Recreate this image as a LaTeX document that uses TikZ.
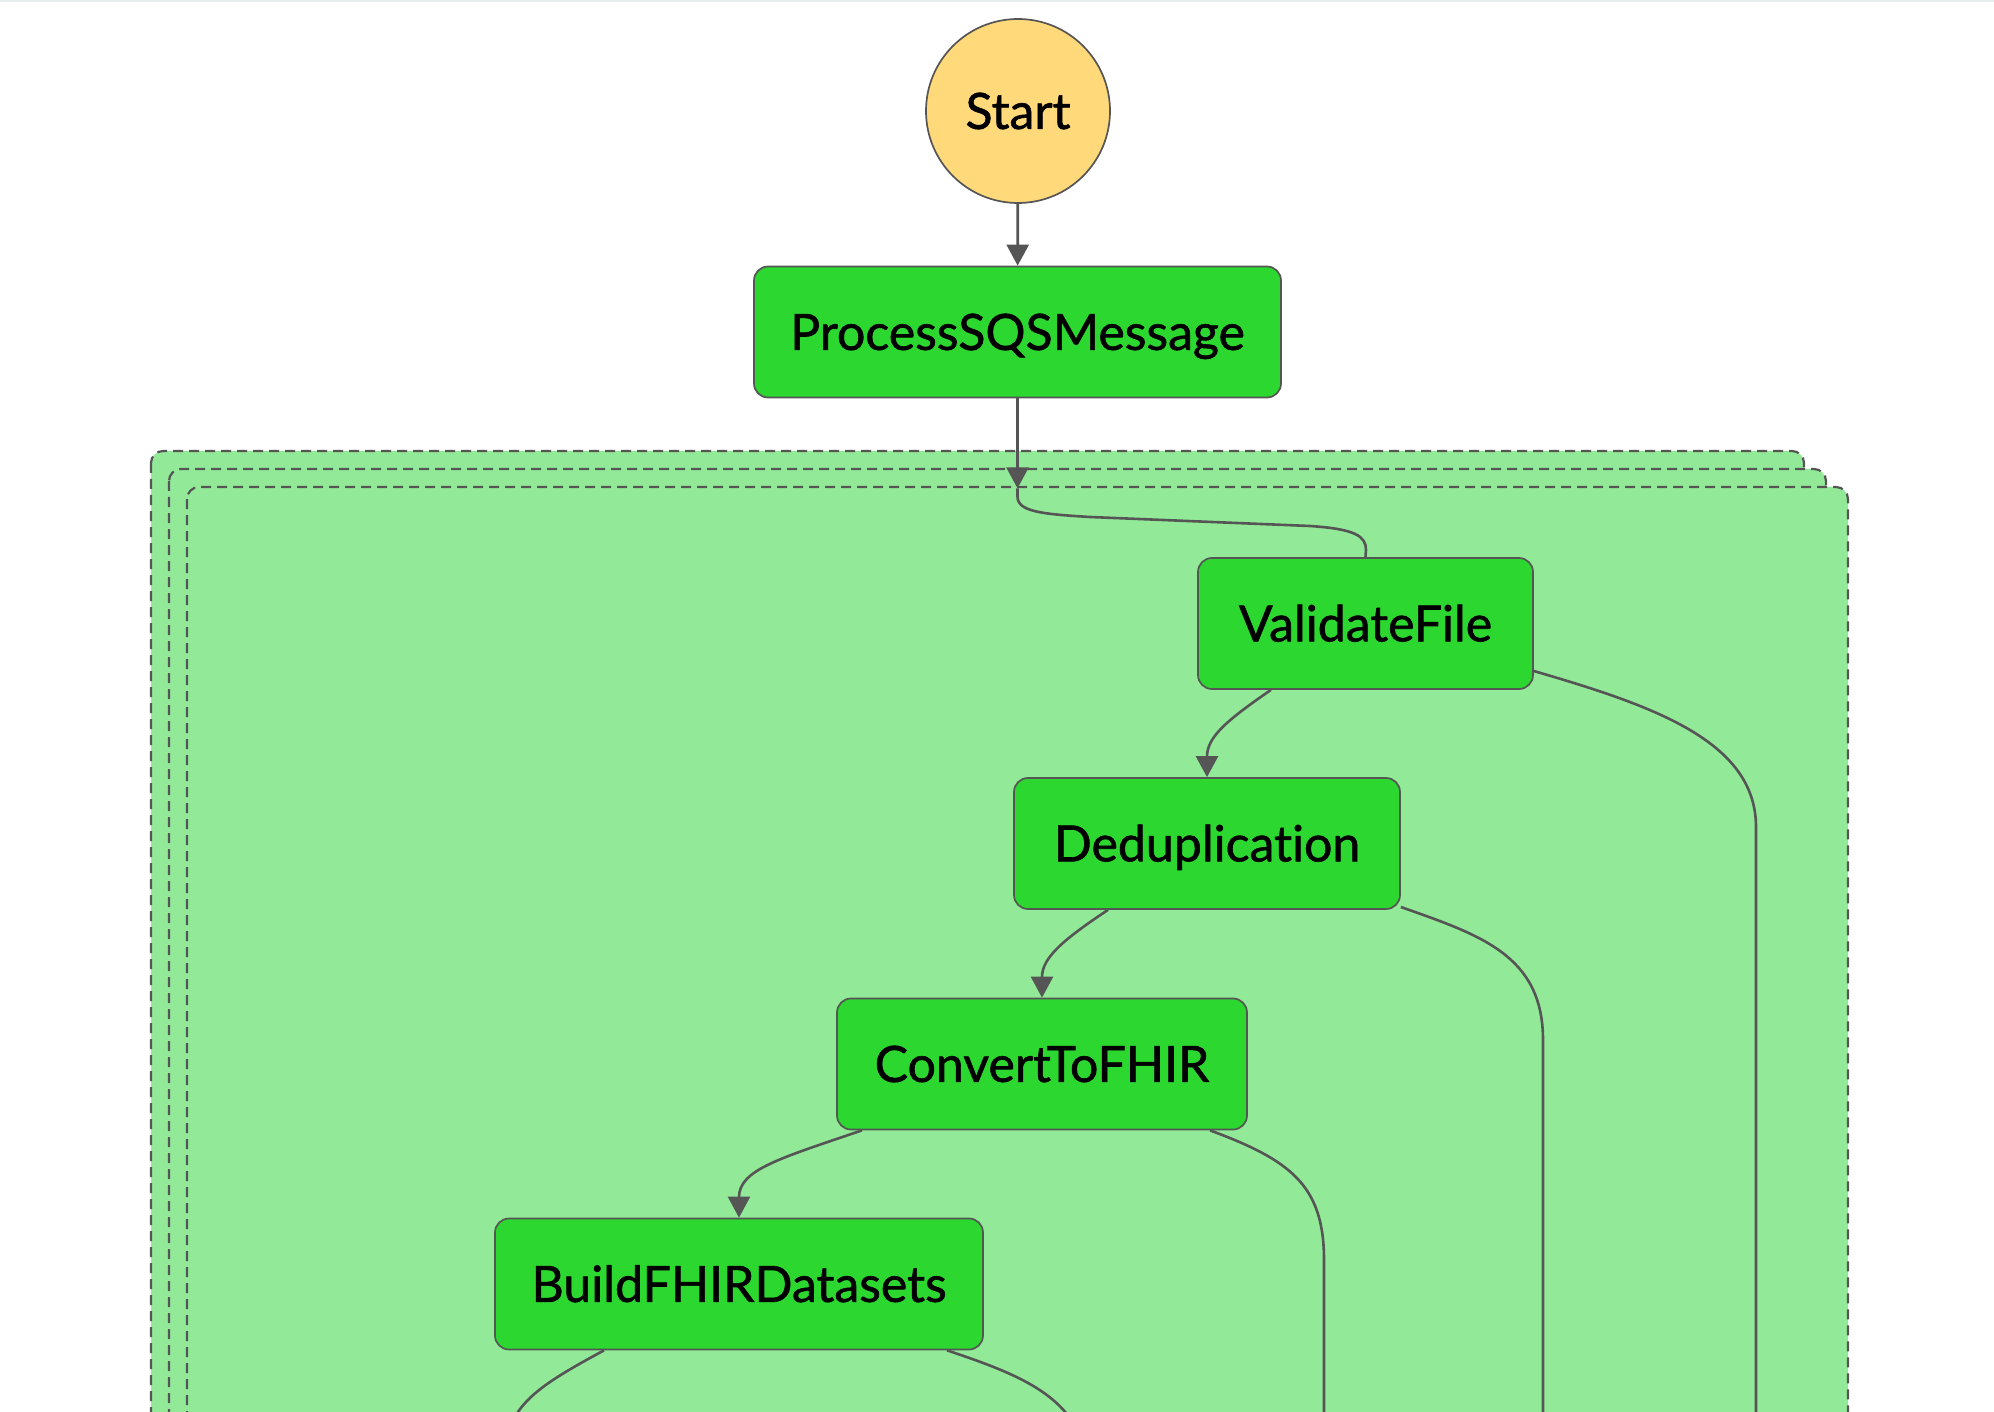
\documentclass[tikz,border=0pt]{standalone}
\usepackage{fontspec}
\setmainfont{Lato}[FakeBold=1.2, Ligatures={NoCommon}]
\usetikzlibrary{arrows.meta,calc}
\definecolor{boxgreen}{HTML}{2CD730}
\definecolor{mapgreen}{HTML}{92EA98}
\definecolor{startyel}{HTML}{FFD97A}
\definecolor{edgegray}{HTML}{555555}
\definecolor{topbar}{HTML}{E8ECEC}
\begin{document}
\begin{tikzpicture}[x=0.5pt,y=-0.5pt,
  state/.style={rectangle, draw=edgegray, line width=0.85pt, fill=boxgreen, rounded corners=7pt,
    inner sep=0pt, minimum height=65.5pt, text height=17.9pt, text depth=0pt,
    font=\fontsize{25}{30}\selectfont},
  startnode/.style={circle, draw=edgegray, line width=0.85pt, fill=startyel, minimum size=92pt,
    inner sep=0pt, text height=17.9pt, text depth=0pt, font=\fontsize{25}{30}\selectfont},
  mapbox/.style={draw=edgegray, line width=1.1pt, dash pattern=on 5pt off 3pt, fill=mapgreen, rounded corners=6pt},
  edge/.style={draw=edgegray, line width=1.3pt},
  arr/.style={edge, -{Triangle[width=11pt,length=10.5pt]}}
]
\useasboundingbox (0,0) rectangle (1994,1412);
\clip (0,0) rectangle (1994,1412);
\fill[topbar] (0,0) rectangle (1994,2.5);
% map run containers
\path[mapbox] (151,451) rectangle (1804,1500);
\path[mapbox] (169,469) rectangle (1826,1500);
\path[mapbox] (187,487) rectangle (1848,1500);
% states
\node[startnode] (start) at (1018,111) {Start};
\node[state, minimum width=263.5pt] (process) at (1017.5,332) {ProcessSQSMessage};
\node[state, minimum width=167.5pt] (validate) at (1365.5,623.5) {ValidateFile};
\node[state, minimum width=193pt] (dedup) at (1207,843.5) {Deduplication};
\node[state, minimum width=205pt] (convert) at (1042,1064) {ConvertToFHIR};
\node[state, minimum width=244pt] (build) at (739,1284) {BuildFHIRDatasets};
% connectors
\draw[arr] (start) -- (process);
\coordinate (entry) at ($(process.south)+(0,90)$);
\draw[arr] (process.south) -- (entry);
\draw[edge] (entry) -- ++(0,8) .. controls +(0,15) and (1040,514) .. (1090,517) -- (1310,526)
  .. controls (1355,529) and (1366,536) .. (1366,550) -- (validate.north);
\draw[arr] ($(validate.south)+(-94.5,0)$) .. controls +(-45,31) and +(0,-40) .. (dedup.north);
\coordinate (vout) at (1756,1460);
\draw[edge] ($(validate.east)+(0,47.5)$) .. controls (1650,705) and (1756,740) .. (1756,827) -- (vout);
\draw[arr] ($(dedup.south)+(-99,0)$) .. controls +(-45,30) and +(0,-40) .. (convert.north);
\coordinate (dout) at (1543,1460);
\draw[edge] ($(dedup.east)+(0,63.5)$) .. controls (1480,935) and (1543,955) .. (1543,1040) -- (dout);
\draw[arr] ($(convert.south)+(-180,0)$) .. controls +(-82,28) and +(0,-48) .. (build.north);
\coordinate (cout) at (1324,1460);
\draw[edge] ($(convert.south)+(168,0)$) .. controls (1290,1160) and (1324,1185) .. (1324,1260) -- (cout);
\coordinate (bl) at (506,1450);
\draw[edge] ($(build.south)+(-135,0)$) .. controls (540,1385) and (508,1405) .. (bl);
\coordinate (br) at (1090,1470);
\draw[edge] ($(build.south)+(208,0)$) .. controls (1030,1378) and (1080,1400) .. (br);
\end{tikzpicture}
\end{document}
